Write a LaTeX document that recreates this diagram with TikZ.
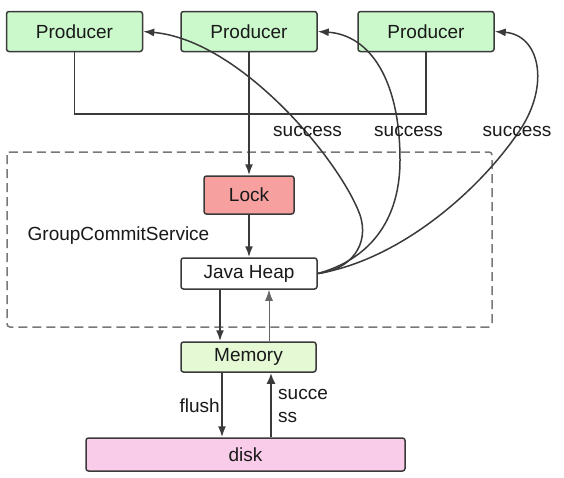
\documentclass[tikz,border=0pt]{standalone}
\usepackage{fontspec}
\setmainfont{Liberation Sans}
\usetikzlibrary{arrows.meta}
\definecolor{prodfill}{RGB}{204,249,204}
\definecolor{memfill}{RGB}{228,249,212}
\definecolor{lockfill}{RGB}{247,160,160}
\definecolor{diskfill}{RGB}{249,205,234}
\definecolor{edge}{RGB}{58,58,58}
\definecolor{dashcol}{RGB}{120,120,120}
\tikzset{
  txt/.style={font=\fontsize{19}{21}\selectfont, text=black!90},
  box/.style={txt, draw=edge, line width=1.5pt, rounded corners=2.5pt, inner sep=0pt},
  prod/.style={box, fill=prodfill, minimum width=136pt, minimum height=40pt},
  conn/.style={draw=edge, line width=1.8pt},
  arr/.style={conn, -{Latex[length=11pt,width=8pt]}},
  curvearr/.style={draw=edge, line width=1.5pt, -{Latex[length=11pt,width=8pt]}},
  lbl/.style={txt, inner sep=0pt},
}
\begin{document}
\begin{tikzpicture}[x=1pt,y=-1pt]
\useasboundingbox (0,0) rectangle (564,477);
\fill[white] (0,0) rectangle (564,477);
% dashed group
\draw[dashcol, line width=1.5pt, dash pattern=on 9pt off 5pt, rounded corners=3pt] (7,152) rectangle (492,327);
% producers
\node[prod] (p1) at (74.5,31.5) {Producer};
\node[prod] (p2) at (249,31.5) {Producer};
\node[prod] (p3) at (426,31.5) {Producer};
% inner nodes
\node[box, fill=lockfill, minimum width=90pt, minimum height=38pt] (lock) at (249,195) {Lock};
\node[box, fill=white, minimum width=136pt, minimum height=31pt] (heap) at (249,273.5) {Java Heap};
\node[box, fill=memfill, minimum width=135pt, minimum height=30pt] (mem) at (248.5,357) {Memory};
\node[box, fill=diskfill, minimum width=319pt, minimum height=33pt] (disk) at (245.5,454.5) {disk};
\node[lbl] (gcs) at (118.5,236) {GroupCommitService};
% bus from producers 1 and 3
\coordinate (bus) at (0,114);
\draw[conn] (p1.south) -- (p1.south |- bus) -- (p3.south |- bus) -- (p3.south);
% main flow
\draw[arr] (p2.south) -- (lock.north);
\draw[arr] (lock.south) -- (heap.north);
\draw[arr] ([xshift=-29pt]heap.south) -- ([xshift=-29pt]heap.south |- mem.north);
\draw[draw=black!60, line width=1pt, -{Latex[length=11pt,width=8pt]}] ([xshift=20pt]heap.south |- mem.north) -- ([xshift=20pt]heap.south);
\draw[arr] ([xshift=-26.5pt]mem.south) -- ([xshift=-26.5pt]mem.south |- disk.north);
\draw[draw=edge, line width=2.6pt, -{Latex[length=11pt,width=9pt]}] ([xshift=22.5pt]mem.south |- disk.north) -- ([xshift=22.5pt]mem.south);
\node[lbl, anchor=east] (flush) at (220,406) {flush};
\node[lbl, anchor=west] (succ1) at (278,394) {succe};
\node[lbl, anchor=west] (succ2) at (278,417) {ss};
% success curves
\draw[curvearr] (heap.east) .. controls (350,270) and (370,245) .. (360,215) .. controls (340,160) and (240,40) .. (p1.east);
\draw[curvearr] (heap.east) .. controls (360,262) and (400,230) .. (400,160) .. controls (400,80) and (370,35) .. (p2.east);
\draw[curvearr] (heap.east) .. controls (400,260) and (480,190) .. (520,130) .. controls (550,85) and (540,35) .. (p3.east);
\node[lbl] (s1) at (307.5,131) {success};
\node[lbl] (s2) at (408.5,131) {success};
\node[lbl] (s3) at (517,131) {success};
\end{tikzpicture}
\end{document}
